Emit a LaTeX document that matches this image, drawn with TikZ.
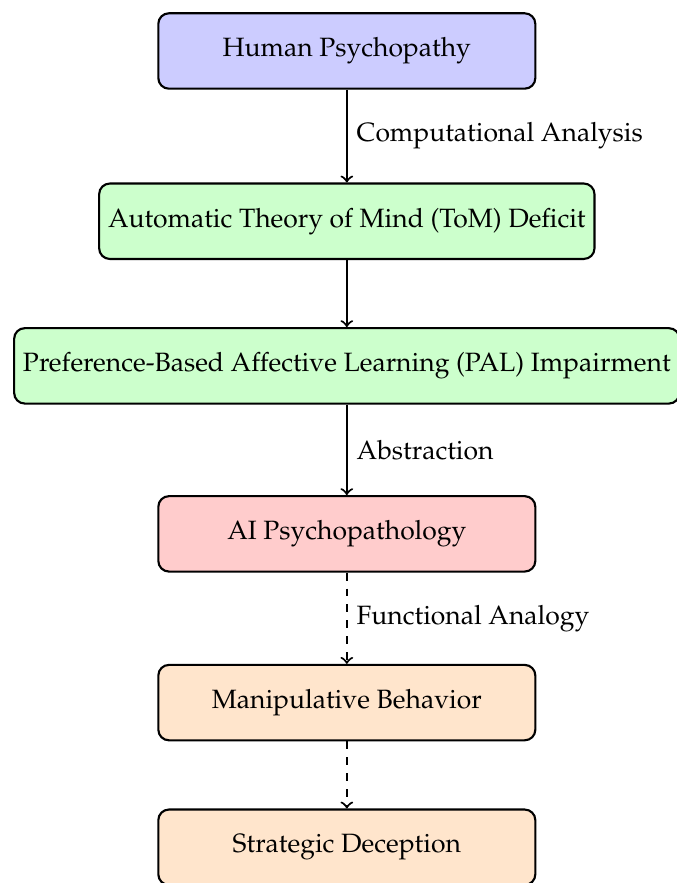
\documentclass[tikz,border=0pt]{standalone}
\usepackage[T1]{fontenc}
\usepackage{mathpazo}
\usetikzlibrary{positioning}

\begin{document}
\begin{tikzpicture}[
    box/.style={draw, thick, rounded corners, minimum width=5cm,
      minimum height=1cm, align=center},
    link/.style={->, thick},
    analog/.style={->, thick, dashed}]
    \useasboundingbox (-4.60,0.676) rectangle (4.366,-11.035);
    % human side
    \node[box, fill=blue!20] (human) at (0,0) {Human Psychopathy};
    \node[box, fill=green!20, below=1.23cm of human] (tom)
      {Automatic Theory of Mind (ToM) Deficit};
    \node[box, fill=green!20, below=0.89cm of tom] (pal)
      {Preference-Based Affective Learning (PAL) Impairment};
    % AI side
    \node[box, fill=red!20, below=1.20cm of pal] (aipsy) {AI Psychopathology};
    \node[box, fill=orange!20, below=1.21cm of aipsy] (manip)
      {Manipulative Behavior};
    \node[box, fill=orange!20, below=0.89cm of manip] (decep)
      {Strategic Deception};
    \draw[link] (human) -- node[right] {Computational Analysis} (tom);
    \draw[link] (tom) -- (pal);
    \draw[link] (pal) -- node[right] {Abstraction} (aipsy);
    \draw[analog] (aipsy) -- node[right] {Functional Analogy} (manip);
    \draw[analog] (manip) -- (decep);
\end{tikzpicture}
\end{document}
